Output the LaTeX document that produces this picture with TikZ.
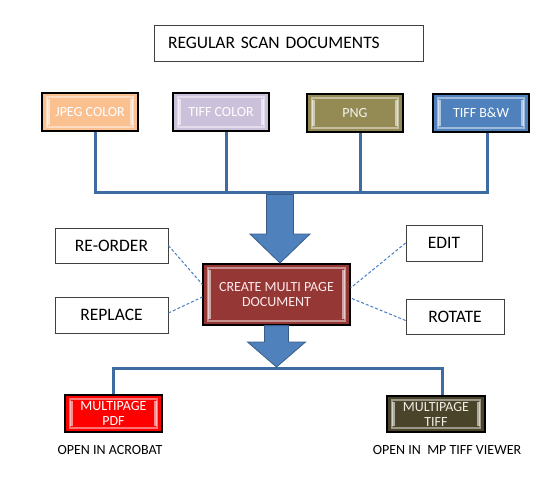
\documentclass[tikz,border=0pt]{standalone}
\usepackage{fontspec}
\setmainfont{Carlito}
\usetikzlibrary{calc}

\definecolor{linkblue}{HTML}{3F6BA3}
\definecolor{arrowblue}{HTML}{4F81BD}
\definecolor{arrowedge}{HTML}{385D8A}
\definecolor{dashblue}{HTML}{4A7EC2}
\definecolor{peach}{HTML}{FAC090}
\definecolor{lavender}{HTML}{CCC1DA}
\definecolor{olive}{HTML}{948A54}
\definecolor{steel}{HTML}{4F81BD}
\definecolor{brick}{HTML}{953735}
\definecolor{darkolive}{HTML}{4A452A}

\tikzset{
 btn/.style={draw=black, line width=1.2pt, minimum width=96pt, minimum height=38pt,
  text=white, align=center, font=\fontsize{14}{15}\selectfont, inner sep=2pt,
  path picture={
   \draw[white, opacity=.45, line width=1.2pt]
    ([shift={(5pt,-4pt)}]path picture bounding box.north west) rectangle
    ([shift={(-5pt,4pt)}]path picture bounding box.south east);
   \fill[white, opacity=.55]
    ([shift={(5pt,-6pt)}]path picture bounding box.north west) rectangle
    ([shift={(8pt,6pt)}]path picture bounding box.south west);
   \fill[white, opacity=.55]
    ([shift={(-5pt,-6pt)}]path picture bounding box.north east) rectangle
    ([shift={(-8pt,6pt)}]path picture bounding box.south east);
  }},
 plain/.style={draw=black!75, line width=.8pt, fill=white, inner sep=0pt,
  font=\fontsize{17.5}{19}\selectfont},
 link/.style={linkblue, line width=3pt},
 tie/.style={dashblue, dash pattern=on 3pt off 2pt, line width=1pt},
 bigarrow/.style={fill=arrowblue, draw=arrowedge, line width=.8pt, line join=miter},
 caption/.style={font=\fontsize{14}{15}\selectfont}
}

% #1 top, #2 tip, #3 shaft half width, #4 head half width, #5 head length
\newcommand\blockarrow[5]{%
 \draw[bigarrow] let \p1=(#1), \p2=(#2) in
  (\x1-#3pt,\y1) -- (\x1+#3pt,\y1) -- (\x1+#3pt,\y2+#5pt) -- (\x1+#4pt,\y2+#5pt)
  -- (\x1,\y2) -- (\x1-#4pt,\y2+#5pt) -- (\x1-#3pt,\y2+#5pt) -- cycle;
}

\begin{document}
\begin{tikzpicture}[x=1pt, y=-1pt]
\useasboundingbox (0,0) rectangle (556,486);

\node[plain, minimum height=36pt, text width=241pt, inner xsep=14pt, align=left] (title) at (288.5,43) {REGULAR SCAN DOCUMENTS};

% input formats
\node[btn, fill=peach] (jpeg) at (90,112) {JPEG COLOR};
\node[btn, fill=lavender] (tiff) at (221,112) {TIFF COLOR};
\node[btn, fill=olive, text=white!90!olive] (png) at (355,113) {PNG};
\node[btn, fill=steel] (bw) at (481,113) {TIFF B\&W};

\coordinate (hub) at (280,193);
\foreach \n in {tiff, png}
 \draw[link] ([xshift=5pt]\n.south) -- ([xshift=5pt]\n.south |- hub);
\draw[link] ([xshift=5pt]jpeg.south) |- (hub) -| ([xshift=6pt]bw.south);

\node[btn, fill=brick, minimum width=147pt, minimum height=61pt, text=red!8] (create) at (276.5,294.5) {CREATE MULTI PAGE\\DOCUMENT};

\coordinate (tip1) at (280,263);
\blockarrow{[yshift=-1.5pt]hub}{tip1}{13.5}{30}{29}

% editing options
\node[plain, minimum width=113pt, minimum height=35pt] (reorder) at (111.5,245.5) {RE-ORDER};
\node[plain, minimum width=113pt, minimum height=36pt] (replace) at (111.5,315) {REPLACE};
\node[plain, minimum width=76pt, minimum height=36pt] (edit) at (444,243) {EDIT};
\node[plain, minimum width=98pt, minimum height=35pt] (rotate) at (455,316.5) {ROTATE};

\draw[tie] (reorder.east) -- ([yshift=10pt]create.west);
\draw[tie] ([yshift=2pt]replace.east) -- ([yshift=-2.5pt]create.west);
\draw[tie] (edit.west) -- ([yshift=6.5pt]create.east);
\draw[tie] ([yshift=-4pt]rotate.west) -- ([yshift=-3.5pt]create.east);

% outputs
\node[btn, fill=red, minimum width=97pt, minimum height=37pt] (pdf) at (113.5,413.5) {MULTIPAGE\\PDF};
\node[btn, fill=darkolive, minimum width=98pt, minimum height=36pt, text=white!85!olive] (mtiff) at (436,414) {MULTIPAGE\\TIFF};

\coordinate (hub2) at (279,368);
\draw[link] (pdf.north) |- (hub2) -| ([xshift=6pt]mtiff.north);
\coordinate (tip2) at (279,367);
\blockarrow{create.south}{tip2}{12}{29}{25}

\node[caption] (acro) at (110,450) {OPEN IN ACROBAT};
\node[caption] (viewer) at (447,450) {OPEN IN\ \ MP TIFF VIEWER};

\end{tikzpicture}
\end{document}
